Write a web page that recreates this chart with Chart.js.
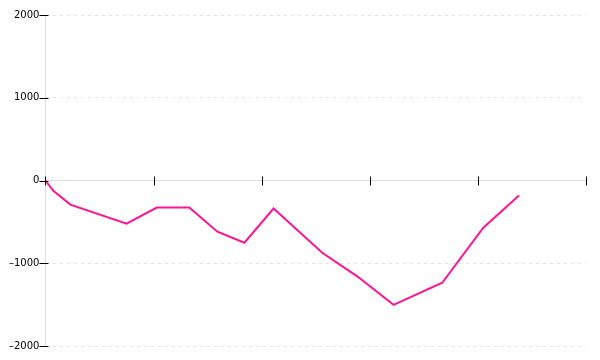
<!DOCTYPE html>
<html>
<head>
<meta charset="utf-8">
<script src="https://cdn.jsdelivr.net/npm/chart.js@4.4.1/dist/chart.umd.min.js"></script>
<style>
  html, body { margin: 0; padding: 0; background: #fff; }
  #wrap { width: 600px; height: 360px; }
</style>
</head>
<body>
<div id="wrap"><canvas id="chart"></canvas></div>
<script>
// x positions (axis units, one tick per unit) and y values
const xValues = [0, 0.07, 0.23, 0.75, 1.03, 1.33, 1.59, 1.84, 2.11, 2.56, 2.89, 3.22, 3.67, 4.05, 4.38];
const yValues = [0, -121, -291, -521, -327, -327, -618, -752, -339, -873, -1164, -1503, -1236, -570, -182];
const yTicks = [-2000, -1000, 0, 1000, 2000];
const xTicks = [0, 1, 2, 3, 4, 5];

const points = xValues.map((x, i) => ({ x: x, y: yValues[i] }));

// draw tick marks crossing each axis, like the original
const crossTicks = {
  id: 'crossTicks',
  afterDraw(chart) {
    const { ctx, scales: { x, y } } = chart;
    const y0 = y.getPixelForValue(0);
    ctx.save();
    ctx.strokeStyle = '#000';
    ctx.lineWidth = 1;
    ctx.beginPath();
    xTicks.forEach(v => {
      const px = Math.round(x.getPixelForValue(v)) + 0.5;
      ctx.moveTo(px, y0 - 4);
      ctx.lineTo(px, y0 + 5);
    });
    yTicks.forEach(v => {
      const py = Math.round(y.getPixelForValue(v)) + 0.5;
      ctx.moveTo(x.left - 6, py);
      ctx.lineTo(x.left + 3, py);
    });
    ctx.stroke();
    ctx.restore();
  }
};

new Chart(document.getElementById('chart').getContext('2d'), {
  type: 'scatter',
  data: {
    datasets: [{
      data: points,
      showLine: true,
      borderColor: '#ff1493',
      backgroundColor: '#ff1493',
      borderWidth: 2,
      pointRadius: 0,
      tension: 0
    }]
  },
  options: {
    responsive: true,
    maintainAspectRatio: false,
    animation: false,
    layout: { padding: { left: 3, right: 14, top: 15, bottom: 14 } },
    plugins: { legend: { display: false }, tooltip: { enabled: false } },
    scales: {
      x: {
        type: 'linear',
        min: 0,
        max: 5,
        position: { y: 0 },
        afterBuildTicks: axis => { axis.ticks = xTicks.map(v => ({ value: v })); },
        ticks: { display: false },
        grid: { drawOnChartArea: false, drawTicks: false },
        border: { color: '#dddddd', width: 1 }
      },
      y: {
        min: -2000,
        max: 2000,
        afterBuildTicks: axis => { axis.ticks = yTicks.map(v => ({ value: v })); },
        ticks: {
          color: '#000',
          padding: 6,
          font: { family: 'DejaVu Sans', size: 10 },
          callback: v => String(v).replace('-', '\u2013')
        },
        grid: {
          drawTicks: false,
          color: ctx => (ctx.tick && ctx.tick.value === 0) ? 'rgba(0,0,0,0)' : '#e4e4e4'
        },
        border: { color: '#dddddd', width: 1, dash: [3, 4] }
      }
    }
  },
  plugins: [crossTicks]
});
</script>
</body>
</html>
